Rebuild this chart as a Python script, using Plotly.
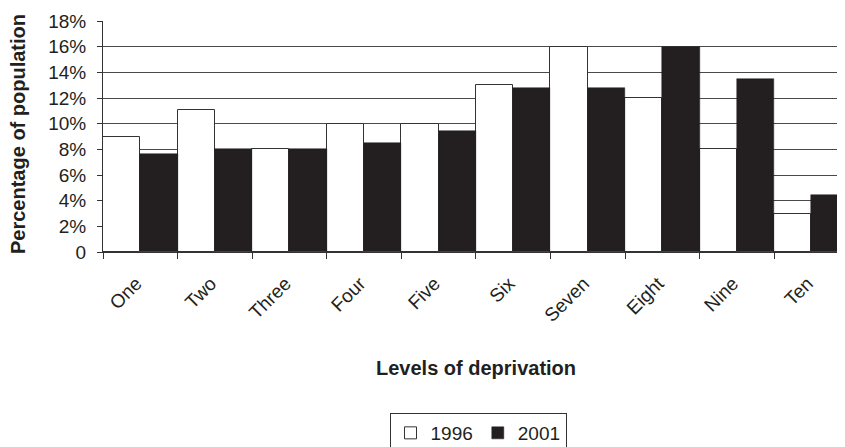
import plotly.graph_objects as go

categories = ["One", "Two", "Three", "Four", "Five", "Six", "Seven", "Eight", "Nine", "Ten"]
values_1996 = [9.0, 11.1, 8.0, 10.0, 10.0, 13.0, 16.0, 12.0, 8.0, 3.0]
values_2001 = [7.65, 8.0, 8.0, 8.5, 9.4, 12.8, 12.8, 16.0, 13.5, 4.45]
y_tick_vals = [0, 2, 4, 6, 8, 10, 12, 14, 16, 18]
y_tick_text = ["0", "2%", "4%", "6%", "8%", "10%", "12%", "14%", "16%", "18%"]

FONT = "Liberation Sans, Arial, sans-serif"
OFF = 8  # page body margin offset
W, H = 845 - OFF, 447 - OFF
L, R, T, B = 103 - OFF, 0, 21 - OFF, 447 - 252
plot_h = H - T - B
plot_w = W - L - R


def px_x(page_x):
    return (page_x - OFF - L) / plot_w


def px_y(page_y):
    return (252 - page_y) / plot_h


fig = go.Figure()
fig.add_trace(go.Bar(
    name="1996", x=categories, y=values_1996,
    marker=dict(color="white", line=dict(color="#333333", width=1)),
))
fig.add_trace(go.Bar(
    name="2001", x=categories, y=values_2001,
    marker=dict(color="#231f20", line=dict(color="#231f20", width=0.5)),
))

fig.update_layout(
    width=W, height=H,
    margin=dict(l=L, r=R, t=T, b=B, pad=0, autoexpand=False),
    paper_bgcolor="white", plot_bgcolor="white",
    barmode="group", bargap=0, bargroupgap=0,
    font=dict(family=FONT, color="#231f20"),
    showlegend=True,
    legend=dict(
        orientation="h", x=px_x(478), xanchor="center",
        y=px_y(413), yanchor="top",
        bordercolor="#333333", borderwidth=1,
        font=dict(size=19, family=FONT, color="#231f20"),
        traceorder="normal",
    ),
    annotations=[
        dict(text="<b>Levels of deprivation</b>", xref="paper", yref="paper",
             x=px_x(476), y=px_y(368),
             xanchor="center", yanchor="middle", showarrow=False,
             font=dict(size=20, family=FONT, color="#231f20")),
        dict(text="<b>Percentage of population</b>", xref="paper", yref="paper",
             x=px_x(18), y=px_y(134),
             xanchor="center", yanchor="middle", showarrow=False, textangle=-90,
             font=dict(size=20, family=FONT, color="#231f20")),
    ],
)

fig.update_xaxes(
    range=[-0.5, 9.45], automargin=False,
    showline=True, linecolor="#333333", linewidth=1,
    ticks="outside", tickson="boundaries", ticklen=6, tickcolor="#333333",
    tickangle=-45, tickfont=dict(size=19, family=FONT, color="#231f20"),
    ticklabelstandoff=12, ticklabelshift=-4,
    showgrid=False, zeroline=False,
)
fig.update_yaxes(
    range=[0, 18], automargin=False,
    tickvals=y_tick_vals, ticktext=y_tick_text,
    showline=True, linecolor="#333333", linewidth=1,
    ticks="outside", ticklen=5, tickcolor="#333333",
    tickfont=dict(size=19, family=FONT, color="#231f20"),
    ticklabelstandoff=7,
    showgrid=True, gridcolor="#4a4a4a", gridwidth=1,
    zeroline=False,
)

fig.write_html("out.html")
